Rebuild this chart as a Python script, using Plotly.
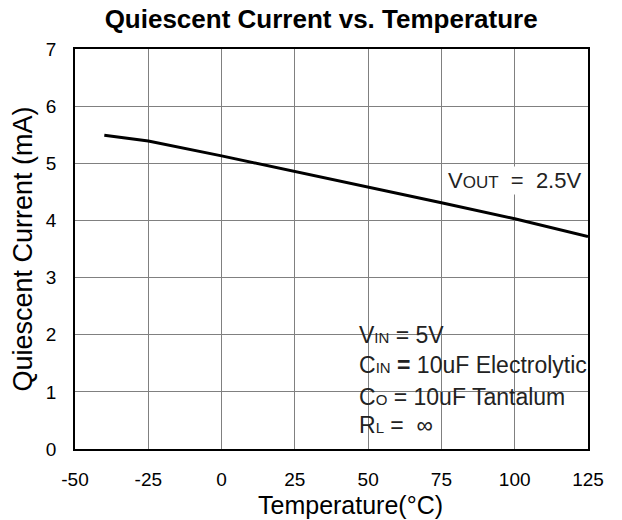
import plotly.graph_objects as go

temperature = [-40, -25, 0, 25, 50, 75, 100, 125]
current_ma = [5.49, 5.39, 5.13, 4.86, 4.59, 4.31, 4.03, 3.72]

x_ticks = [-50, -25, 0, 25, 50, 75, 100, 125]
x_tick_labels = [str(v) for v in x_ticks]
y_ticks = [0, 1, 2, 3, 4, 5, 6, 7]

FONT = "Liberation Sans, Arial, sans-serif"

fig = go.Figure()
fig.add_trace(go.Scatter(x=temperature, y=current_ma, mode="lines",
                         line=dict(color="black", width=3), showlegend=False))

axis_common = dict(showline=True, linecolor="black", linewidth=1.5, mirror=True,
                   showgrid=True, gridcolor="#808080", gridwidth=1, zeroline=False,
                   ticks="", automargin=False,
                   tickfont=dict(family=FONT, size=19, color="black"))

fig.update_xaxes(range=[-50, 125], tickvals=x_ticks, ticktext=x_tick_labels, ticklabelstandoff=12,
                 **axis_common)
fig.update_yaxes(range=[0, 7], tickvals=y_ticks, ticklabelstandoff=13,
                 title=dict(text="Quiescent Current (mA)", font=dict(family=FONT, size=27, color="black"), standoff=6),
                 **axis_common)

# x-axis title (sits slightly right of centre in the reference)
fig.add_annotation(xref="paper", yref="paper", x=0.538, y=0, yshift=-56, text="Temperature(°C)",
                   showarrow=False, xanchor="center", yanchor="middle",
                   font=dict(family=FONT, size=25, color="black"))

# white box behind the conditions text
fig.add_shape(type="rect", xref="paper", yref="paper", x0=0.546, x1=0.981, y0=0.016, y1=0.312,
              fillcolor="white", line=dict(width=0), layer="between")

sub = '<span style="font-size:15px">{}</span>'
lines = [
    ("V" + sub.format("IN") + " = 5V", 0.285),
    ("C" + sub.format("IN") + " <b>=</b> 10uF Electrolytic", 0.210),
    ("C" + sub.format("O") + " = 10uF Tantalum", 0.130),
    ("R" + sub.format("L") + " =  ∞", 0.060),
]
for txt, yp in lines:
    fig.add_annotation(xref="paper", yref="paper", x=0.549, y=yp, text=txt, showarrow=False,
                       xanchor="left", yanchor="middle",
                       font=dict(family=FONT, size=23, color="#222222"))

fig.add_annotation(xref="paper", yref="paper", x=0.99, y=0.672,
                   text="V" + '<span style="font-size:17px">OUT</span>' + "  =  2.5V",
                   showarrow=False, xanchor="right", yanchor="middle", bgcolor="white",
                   font=dict(family=FONT, size=22, color="#222222"))

# the page adds an 8px body margin, so the figure is sized/margined to compensate
fig.update_layout(
    width=614, height=512,
    margin=dict(l=67, r=34, t=41, b=71),
    paper_bgcolor="white", plot_bgcolor="white",
    title=dict(text="<b>Quiescent Current vs. Temperature</b>", x=0.51, xanchor="center",
               y=0.978, yanchor="middle", font=dict(family=FONT, size=26, color="black")),
)

fig.write_html("out.html")
